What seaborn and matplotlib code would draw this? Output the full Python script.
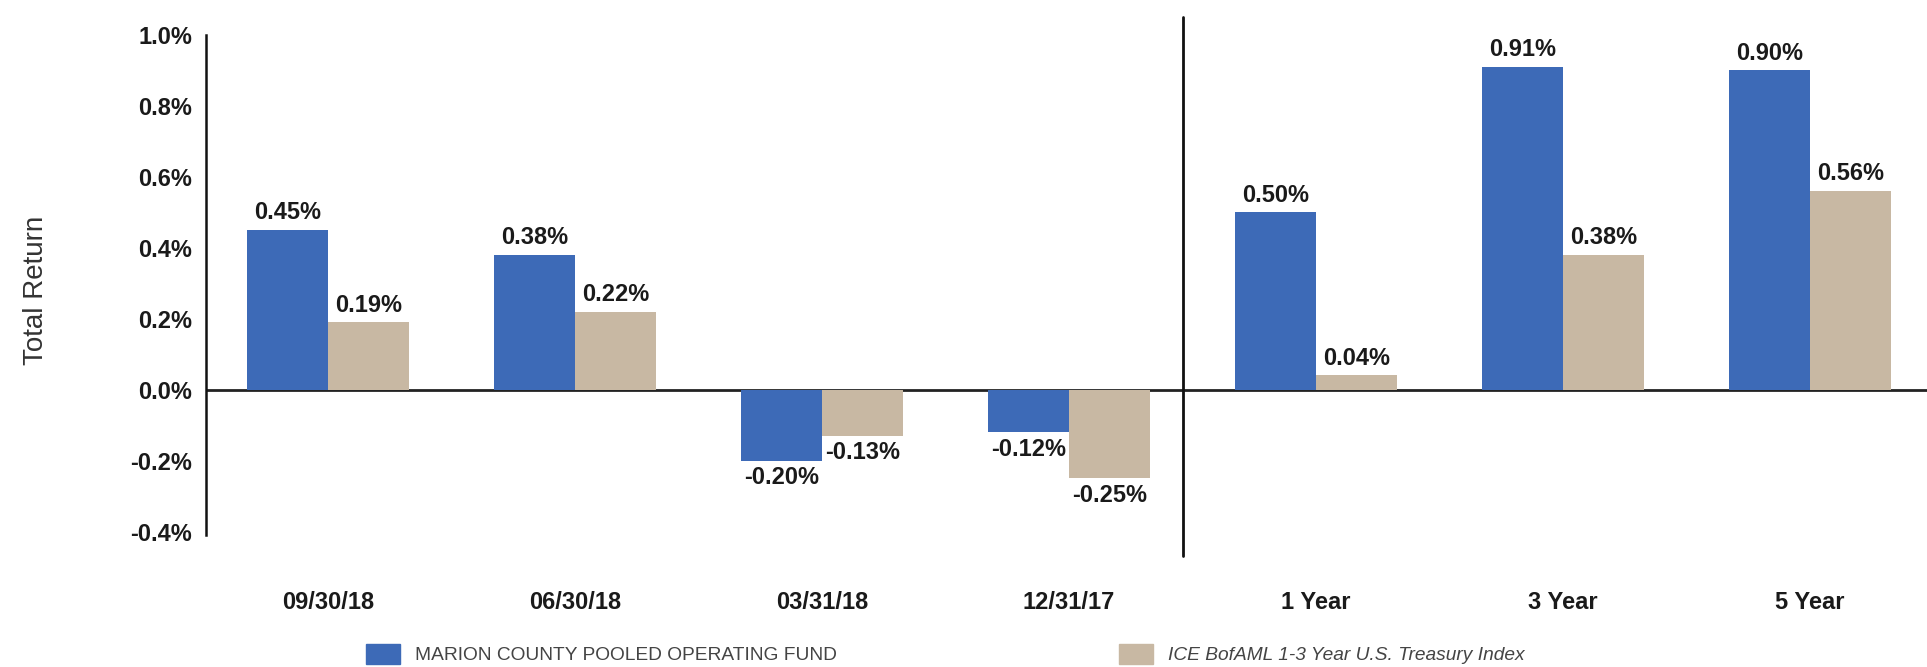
import matplotlib
matplotlib.use("Agg")
import matplotlib.pyplot as plt
import matplotlib.patches as mpatches
import pandas as pd
import seaborn as sns

# Data
periods = ["09/30/18", "06/30/18", "03/31/18", "12/31/17", "1 Year", "3 Year", "5 Year"]
fund_returns = [0.45, 0.38, -0.20, -0.12, 0.50, 0.91, 0.90]
index_returns = [0.19, 0.22, -0.13, -0.25, 0.04, 0.38, 0.56]
series_names = ["MARION COUNTY POOLED OPERATING FUND", "ICE BofAML 1-3 Year U.S. Treasury Index"]
y_ticks = [-0.4, -0.2, 0.0, 0.2, 0.4, 0.6, 0.8, 1.0]

blue = "#3D6AB7"
tan = "#C8B8A3"

df = pd.DataFrame({
    "period": periods * 2,
    "value": fund_returns + index_returns,
    "series": [series_names[0]] * len(periods) + [series_names[1]] * len(periods),
})

sns.set_style("white")
plt.rcParams["font.family"] = ["Liberation Sans", "DejaVu Sans"]

fig = plt.figure(figsize=(19.27, 6.67), dpi=100)
ax = fig.add_axes([206 / 1927, 0.1604, 1 - 206 / 1927, 0.8141])

sns.barplot(data=df, x="period", y="value", hue="series", hue_order=series_names,
            order=periods, palette=[blue, tan], width=0.656, saturation=1,
            errorbar=None, legend=False, linewidth=0, ax=ax)

for cont in ax.containers:
    ax.bar_label(cont, labels=[f"{v:.2f}%" for v in cont.datavalues], padding=4,
                 fontsize=17, fontweight="bold", color="#1a1a1a")

ax.set_xlim(-0.494, 6.474)
ax.set_ylim(-0.48, 1.05)
ax.set_yticks(y_ticks)
ax.set_yticklabels([f"{t:.1f}%" for t in y_ticks])
ax.tick_params(axis="both", length=0)
ax.tick_params(axis="y", pad=10, labelsize=17, labelcolor="#1a1a1a")
ax.tick_params(axis="x", pad=22, labelsize=17, labelcolor="#1a1a1a")
for lbl in ax.get_xticklabels() + ax.get_yticklabels():
    lbl.set_fontweight("bold")
ax.set_xlabel("")
ax.set_ylabel("")

for side in ["top", "right", "bottom"]:
    ax.spines[side].set_visible(False)
ax.spines["left"].set_color("#111111")
ax.spines["left"].set_linewidth(1.8)
ax.spines["left"].set_bounds(-0.41, 1.0)

ax.axhline(0, color="#222222", linewidth=2, zorder=0.5)
# divider between quarterly and annualised periods
ax.plot([3.46, 3.46], [-0.47, 1.05], color="#111111", linewidth=2, clip_on=False)

fig.text(36 / 1927, 1 - 290 / 667, "Total Return", rotation=90, ha="center", va="center",
         fontsize=20, color="#333333")

leg_kw = dict(loc="center left", frameon=False, borderpad=0, borderaxespad=0,
              handlelength=1.75, handleheight=1.3, handletextpad=0.8, fontsize=13.8,
              labelcolor="#444444")
fig.legend(handles=[mpatches.Patch(color=blue, label=series_names[0])],
           bbox_to_anchor=(366 / 1927, 1 - 654 / 667), **leg_kw)
leg2 = fig.legend(handles=[mpatches.Patch(color=tan, label=series_names[1])],
                  bbox_to_anchor=(1119 / 1927, 1 - 654 / 667), **leg_kw)
for t in leg2.get_texts():
    t.set_style("italic")

fig.savefig("out.png", dpi=100)
